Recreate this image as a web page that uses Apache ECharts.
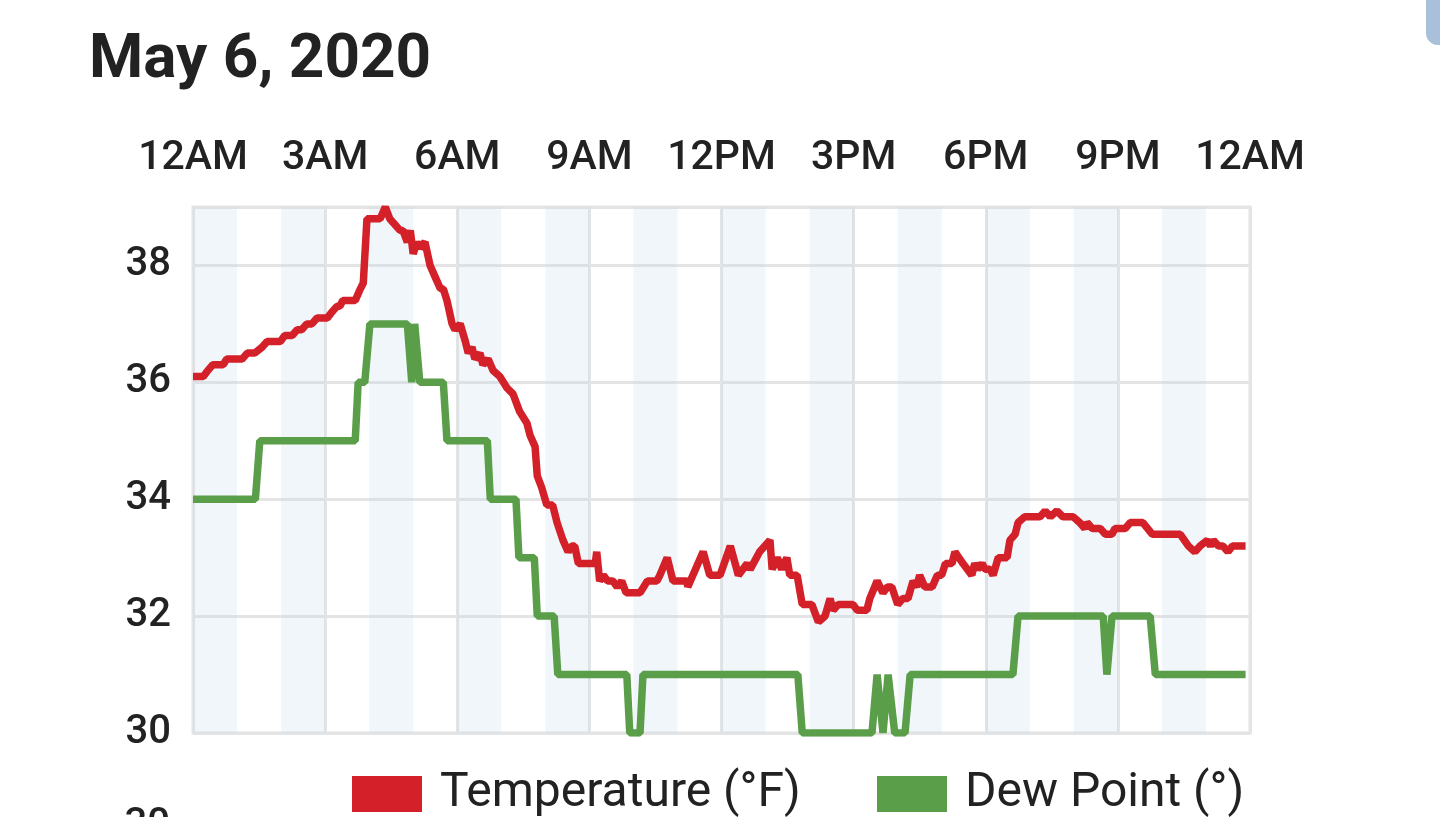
<!DOCTYPE html>
<html>
<head>
<meta charset="utf-8">
<title>May 6, 2020</title>
<script src="https://cdn.jsdelivr.net/npm/echarts@6/dist/echarts.min.js"></script>
<style>
  html, body { margin: 0; padding: 0; background: #fff; }
  #chart { width: 1440px; height: 817px; }
</style>
</head>
<body>
<div id="chart"></div>
<script>
// minutes after midnight
var tempTimes = [0, 14, 20, 27, 41, 46, 67, 74, 84, 94, 101, 119, 125, 135, 142, 148, 155, 162, 169, 183,
  189, 196, 200, 204, 221, 228, 232, 237, 255, 262, 268, 275, 282, 286, 292, 296, 300, 305, 309, 316,
  323, 330, 337, 341, 346, 353, 357, 364, 371, 375, 380, 384, 391, 395, 402, 409, 418, 428, 436, 445,
  455, 459, 466, 469, 475, 482, 490, 496, 504, 511, 516, 520, 525, 548, 550, 554, 559, 565, 572, 578,
  584, 590, 609, 619, 632, 636, 646, 654, 673, 674, 681, 695, 704, 718, 732, 743, 755, 759, 772, 779,
  786, 789, 796, 802, 809, 813, 823, 830, 843, 852, 861, 868, 872, 879, 899, 905, 918, 922, 932, 940,
  946, 952, 960, 967, 974, 981, 986, 990, 997, 1007, 1014, 1020, 1025, 1034, 1038, 1049, 1061, 1065, 1069, 1075,
  1079, 1086, 1090, 1097, 1102, 1109, 1113, 1120, 1124, 1133, 1154, 1161, 1168, 1177, 1185, 1199, 1208, 1215, 1218, 1225,
  1236, 1243, 1252, 1256, 1270, 1277, 1294, 1307, 1345, 1356, 1365, 1372, 1382, 1386, 1390, 1397, 1403, 1410, 1416, 1434];
var tempValues = [36.1, 36.1, 36.2, 36.3, 36.3, 36.4, 36.4, 36.5, 36.5, 36.6, 36.7, 36.7, 36.8, 36.8, 36.9, 36.9, 37.0, 37.0, 37.1, 37.1,
  37.2, 37.3, 37.3, 37.4, 37.4, 37.6, 37.7, 38.8, 38.8, 39.0, 38.8, 38.7, 38.6, 38.6, 38.4, 38.6, 38.2, 38.4, 38.3, 38.4,
  38.0, 37.8, 37.6, 37.6, 37.4, 37.0, 36.9, 37.0, 36.7, 36.5, 36.6, 36.4, 36.5, 36.3, 36.4, 36.2, 36.1, 35.9, 35.8, 35.5,
  35.3, 35.1, 34.9, 34.4, 34.2, 33.9, 33.9, 33.6, 33.3, 33.1, 33.2, 33.2, 32.9, 32.9, 33.1, 32.6, 32.7, 32.6, 32.6, 32.5,
  32.6, 32.4, 32.4, 32.6, 32.6, 32.7, 33.0, 32.6, 32.6, 32.5, 32.7, 33.1, 32.7, 32.7, 33.2, 32.7, 32.9, 32.8, 33.1, 33.2,
  33.3, 32.8, 33.0, 32.8, 33.0, 32.7, 32.7, 32.2, 32.2, 31.9, 32.0, 32.3, 32.1, 32.2, 32.2, 32.1, 32.1, 32.3, 32.6, 32.4,
  32.5, 32.5, 32.2, 32.3, 32.3, 32.6, 32.5, 32.7, 32.5, 32.5, 32.7, 32.7, 32.9, 32.9, 33.1, 32.9, 32.7, 32.9, 32.8, 32.9,
  32.8, 32.8, 32.7, 33.0, 33.0, 33.0, 33.3, 33.4, 33.6, 33.7, 33.7, 33.8, 33.7, 33.8, 33.7, 33.7, 33.6, 33.5, 33.6, 33.5,
  33.5, 33.4, 33.4, 33.5, 33.5, 33.6, 33.6, 33.4, 33.4, 33.2, 33.1, 33.2, 33.3, 33.2, 33.3, 33.2, 33.2, 33.1, 33.2, 33.2];

var dewTimes = [0, 85, 91, 221, 225, 234, 241, 292, 298, 302, 309, 341, 346, 401, 405, 440, 444, 465, 469, 492,
  497, 591, 595, 609, 613, 824, 830, 925, 932, 940, 947, 956, 970, 977, 1117, 1124, 1240, 1245, 1252, 1304,
  1311, 1434];
var dewValues = [34, 34, 35, 35, 36, 36, 37, 37, 36, 37, 36, 36, 35, 35, 34, 34, 33, 33, 32, 32,
  31, 31, 30, 30, 31, 31, 30, 30, 31, 30, 31, 30, 30, 31, 31, 32, 32, 31, 32, 32,
  31, 31];

var hourLabels = ['12AM', '3AM', '6AM', '9AM', '12PM', '3PM', '6PM', '9PM', '12AM'];
var seriesNames = ['Temperature (°F)', 'Dew Point (°)'];

var FONT = 'Roboto';
var chart = echarts.init(document.getElementById('chart'));

function pairs(t, v) {
  return t.map(function (m, i) { return [m, v[i]]; });
}

// alternating hourly shading: 0-1h, 2-3h, ...
var bands = [];
for (var h = 0; h < 24; h += 2) {
  bands.push([{ xAxis: h * 60 }, { xAxis: (h + 1) * 60 }]);
}

function legendFor(name, x) {
  return {
    data: [name],
    left: x,
    top: 770,
    padding: 0,
    icon: 'rect',
    itemWidth: 70,
    itemHeight: 36,
    textStyle: { fontFamily: FONT, fontSize: 48, color: '#222', padding: [0, 0, 0, 13] }
  };
}

var option = {
  backgroundColor: '#fff',
  animation: false,
  title: {
    text: 'May 6, 2020',
    left: 84,
    top: 25,
    textStyle: { fontFamily: FONT, fontSize: 62, fontWeight: 'bold', color: '#222' }
  },
  legend: [legendFor(seriesNames[0], 352), legendFor(seriesNames[1], 877)],
  grid: {
    left: 193,
    right: 190,
    top: 207,
    bottom: 84,
    show: true,
    backgroundColor: '#fff',
    borderColor: '#e4e4e4',
    borderWidth: 3
  },
  xAxis: {
    type: 'value',
    position: 'top',
    min: 0,
    max: 1440,
    interval: 180,
    axisLine: { show: false },
    axisTick: { show: false },
    axisLabel: {
      margin: 28,
      fontFamily: FONT,
      fontSize: 41,
      fontWeight: 500,
      color: '#222',
      formatter: function (v) { return hourLabels[Math.round(v / 180)]; }
    },
    splitLine: { show: true, lineStyle: { color: '#e4e4e4', width: 3 } }
  },
  yAxis: {
    type: 'value',
    min: 30,
    max: 39,
    interval: 2,
    axisLine: { show: false },
    axisTick: { show: false },
    axisLabel: {
      margin: 22,
      fontFamily: FONT,
      fontSize: 40,
      fontWeight: 500,
      color: '#222',
      showMaxLabel: false
    },
    splitLine: { show: true, lineStyle: { color: '#e4e4e4', width: 3 } }
  },
  series: [{
    name: seriesNames[0],
    type: 'line',
    data: pairs(tempTimes, tempValues),
    showSymbol: false,
    color: '#d42029',
    lineStyle: { width: 7.5, color: '#d42029' },
    markArea: {
      silent: true,
      itemStyle: { color: 'rgba(196,218,238,0.24)' },
      data: bands
    },
    z: 3
  }, {
    name: seriesNames[1],
    type: 'line',
    data: pairs(dewTimes, dewValues),
    showSymbol: false,
    color: '#5a9e4a',
    lineStyle: { width: 7.5, color: '#5a9e4a' },
    z: 3
  }],
  graphic: [{
    type: 'rect',
    left: 1426,
    top: -20,
    shape: { width: 40, height: 65, r: 12 },
    style: { fill: '#a8c0d9' }
  }, {
    type: 'text',
    right: 1270,
    top: 806,
    style: { text: '30', fontFamily: FONT, fontSize: 40, fontWeight: 500, fill: '#222' }
  }]
};

chart.setOption(option);
</script>
</body>
</html>
